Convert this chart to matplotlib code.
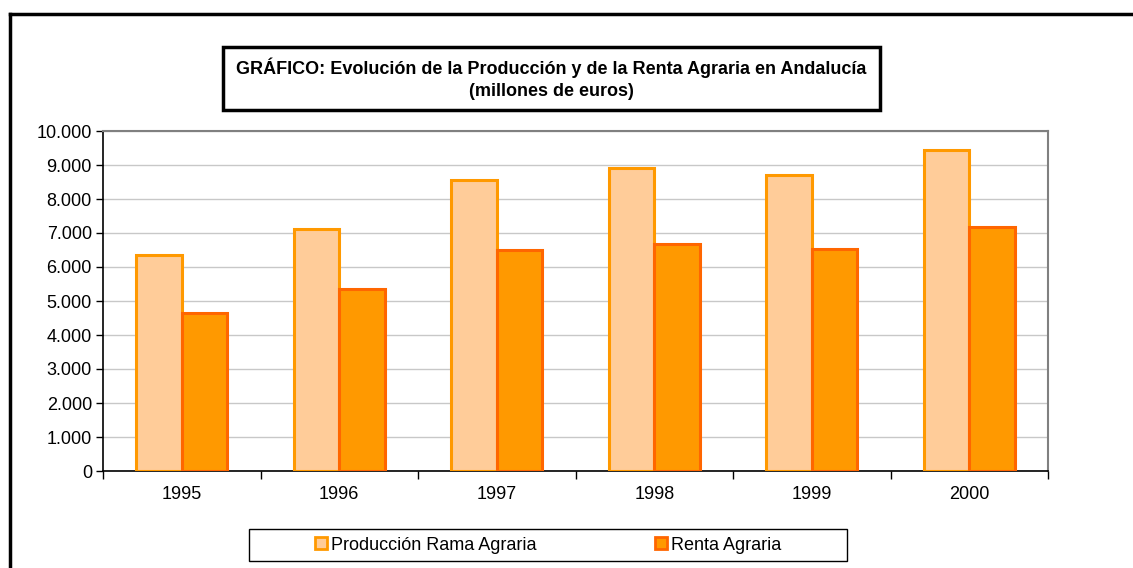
import matplotlib.pyplot as plt
import numpy as np
from matplotlib.patches import Patch, Rectangle
from matplotlib.lines import Line2D
from matplotlib.ticker import FuncFormatter

plt.rcParams['font.family'] = ['Liberation Sans', 'DejaVu Sans']

years = ['1995', '1996', '1997', '1998', '1999', '2000']
produccion = [6350, 7120, 8560, 8920, 8710, 9440]
renta = [4650, 5345, 6500, 6680, 6530, 7190]

W, H = 1133, 568
fig = plt.figure(figsize=(W / 100, H / 100), dpi=100)


def px(x0, y0, x1, y1):
    # pixel box (top-left origin) -> figure fraction [left, bottom, width, height]
    return [x0 / W, 1 - y1 / H, (x1 - x0) / W, (y1 - y0) / H]


ax = fig.add_axes(px(103, 131, 1048, 471))

x = np.arange(len(years))
bw = 0.29
ax.bar(x - bw / 2, produccion, bw, color='#FFCC99', edgecolor='#FF9900',
       linewidth=2.2, zorder=3, label='Producción Rama Agraria')
ax.bar(x + bw / 2, renta, bw, color='#FF9900', edgecolor='#FF6600',
       linewidth=2.2, zorder=3, label='Renta Agraria')

ax.set_xlim(-0.5, len(years) - 0.5)
ax.set_ylim(0, 10000)
ax.set_yticks(np.arange(0, 10001, 1000))
ax.yaxis.set_major_formatter(FuncFormatter(lambda v, p: f'{int(v):,}'.replace(',', '.')))
ax.grid(axis='y', color='#C8C8C8', linewidth=1, zorder=0)

ax.set_xticks(np.arange(-0.5, len(years), 1.0))
ax.set_xticklabels([])
ax.set_xticks(x, minor=True)
ax.set_xticklabels(years, minor=True)
ax.tick_params(axis='x', which='major', direction='out', length=6, width=1)
ax.tick_params(axis='x', which='minor', length=0, pad=11, labelsize=13)
ax.tick_params(axis='y', direction='out', length=5, width=1, labelsize=13, pad=3)

for s in ['top', 'right']:
    ax.spines[s].set_color('#808080')
    ax.spines[s].set_linewidth(1.5)
for s in ['left', 'bottom']:
    ax.spines[s].set_color('black')
    ax.spines[s].set_linewidth(1.2)

# outer chart frame (runs off the right and bottom edges)
fig.add_artist(Line2D([10 / W, 1], [1 - 14 / H, 1 - 14 / H], color='black', linewidth=2.5))
fig.add_artist(Line2D([10 / W, 10 / W], [0, 1 - 14 / H], color='black', linewidth=2.5))

# title box
tb = px(223, 47, 880, 110)
fig.add_artist(Rectangle((tb[0], tb[1]), tb[2], tb[3], transform=fig.transFigure,
                         fill=False, edgecolor='black', linewidth=2.5))
fig.text(551.5 / W, 1 - 68 / H, 'GRÁFICO: Evolución de la Producción y de la Renta Agraria en Andalucía',
         ha='center', va='center', fontsize=13, fontweight='bold')
fig.text(551.5 / W, 1 - 92 / H, '(millones de euros)',
         ha='center', va='center', fontsize=13, fontweight='bold')

# legend
handles = [Patch(facecolor='#FFCC99', edgecolor='#FF9900', linewidth=2),
           Patch(facecolor='#FF9900', edgecolor='#FF6600', linewidth=2)]
lb = px(249, 529, 847, 561)
leg = fig.legend(handles, ['Producción Rama Agraria', 'Renta Agraria'],
                 loc='center', bbox_to_anchor=(lb[0] + lb[2] / 2, lb[1] + lb[3] / 2),
                 ncol=2, frameon=False, fontsize=13, handlelength=0.65,
                 handleheight=0.65, handletextpad=0.2, columnspacing=6.6,
                 borderaxespad=0)
fig.add_artist(Rectangle((lb[0], lb[1]), lb[2], lb[3], transform=fig.transFigure,
                         fill=False, edgecolor='black', linewidth=1))

fig.savefig('out.png', dpi=100)
